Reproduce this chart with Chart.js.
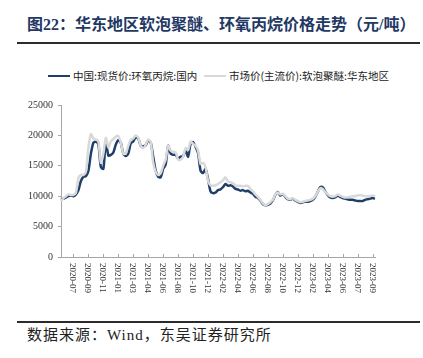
<!DOCTYPE html>
<html>
<head>
<meta charset="utf-8">
<script src="https://cdn.jsdelivr.net/npm/chart.js"></script>
<style>
  body { margin: 0; width: 423px; height: 358px; background: #fff; position: relative; overflow: hidden; }
  .abs { position: absolute; white-space: nowrap; }
  #title { left: 27px; top: 15px; font: bold 16px "Liberation Serif", "Noto Sans CJK SC"; color: #1f3864; line-height: 20px; }
  .rule { left: 17px; width: 403px; height: 2px; background: #2b2b2b; }
  .legText { font: 10.5px "Noto Sans CJK SC"; color: #222; line-height: 14px; top: 69px; }
  .legLine { width: 22px; top: 75px; height: 2px; }
  #source { left: 27px; top: 326px; font: 15px "Liberation Serif", "Noto Sans CJK SC"; letter-spacing: 1px; color: #222; line-height: 18px; }
  #chart { position: absolute; left: 0; top: 94px; }
</style>
</head>
<body>
<div id="title" class="abs">图22：华东地区软泡聚醚、环氧丙烷价格走势（元/吨）</div>
<div class="abs rule" style="top:41.5px"></div>

<div class="abs legLine" style="left:48px;background:#1f3f6b"></div>
<div class="abs legText" style="left:73px">中国:现货价:环氧丙烷:国内</div>
<div class="abs legLine" style="left:204px;background:#d9d9d9"></div>
<div class="abs legText" style="left:229px">市场价(主流价):软泡聚醚:华东地区</div>

<canvas id="chart" width="423" height="210"></canvas>

<div class="abs rule" style="top:320.5px"></div>
<div id="source" class="abs">数据来源：Wind，东吴证券研究所</div>

<script>
// tick labels on the time axis, one every 6 points, first at point 5
const tickLabels = ['2020-07','2020-09','2020-11','2021-01','2021-03','2021-04','2021-06','2021-08','2021-10','2021-12',
  '2022-02','2022-04','2022-06','2022-08','2022-10','2022-12','2023-02','2023-04','2023-06','2023-07','2023-09'];

// 中国:现货价:环氧丙烷:国内
const propyleneOxide = [
  9400, 9600, 9800, 10000, 10100, 10000, 10300, 11000, 12500, 13200,
  13300, 14200, 17000, 18800, 19000, 18500, 14800, 14500, 19000, 16700,
  16800, 17200, 18500, 19200, 18800, 17000, 16600, 17000, 18700, 19000,
  19700, 19500, 18300, 18200, 18400, 19200, 18800, 16500, 14200, 13200,
  13100, 14500, 15200, 18300, 17000, 16800, 16800, 16200, 16500, 16600,
  17500, 16500, 18600, 18900, 18100, 17100, 14200, 13800, 14500, 12800,
  10800, 10500, 10600, 11000, 11100, 11500, 12000, 11700, 11800, 11600,
  11200, 11100, 10900, 11000, 10800, 10900, 10600, 10400, 9900, 9700,
  9300, 8700, 8500, 8600, 8800, 9300, 10200, 10700, 10100, 10300,
  9900, 9500, 9400, 9600, 9300, 9100, 8900, 9000, 9100, 9100,
  9200, 9400, 9900, 10700, 11500, 11500, 10800, 10200, 9800, 9700,
  9800, 10100, 9900, 9700, 9600, 9500, 9400, 9400, 9300, 9200,
  9200, 9200, 9400, 9500, 9600, 9700, 9600
];

// 市场价(主流价):软泡聚醚:华东地区
const polyether = [
  9200, 9700, 10000, 10300, 10200, 10200, 10600, 13000, 13500, 13500,
  14000, 18000, 20200, 19500, 19300, 19000, 15500, 17000, 19600, 18000,
  19000, 19400, 19800, 19900, 18800, 17000, 17000, 18300, 19300, 19500,
  20000, 19600, 18300, 17900, 18500, 19300, 18900, 15500, 14000, 13500,
  13800, 15000, 16000, 18300, 17500, 17300, 17200, 16000, 16000, 16500,
  17900, 17600, 19000, 18600, 18300, 17500, 15300, 15500, 14800, 12500,
  11800, 11700, 11800, 12000, 12300, 12600, 13100, 12400, 12300, 12100,
  11800, 11700, 11700, 11600, 11700, 11700, 11200, 10800, 10300, 9900,
  9400, 8800, 8500, 8700, 9000, 9400, 10300, 10600, 10300, 10400,
  10000, 9600, 9500, 9700, 9400, 9200, 9000, 9100, 9200, 9300,
  9400, 9600, 10000, 10700, 11300, 11200, 10700, 10300, 10000, 9900,
  10000, 10300, 10100, 9900, 9800, 9800, 9900, 10000, 10000, 10100,
  10200, 10100, 10000, 10000, 10000, 10100, 10000
];

const yTicks = [0, 5000, 10000, 15000, 20000, 25000];

const categories = propyleneOxide.map((_, i) => (i >= 5 && (i - 5) % 6 === 0) ? tickLabels[(i - 5) / 6] : '');

const xLabelPlugin = {
  id: 'xLabels',
  afterDraw(chart) {
    const { ctx } = chart;
    const x = chart.scales.x;
    ctx.save();
    ctx.font = '9px "Liberation Serif"';
    ctx.fillStyle = '#333';
    ctx.strokeStyle = '#a6a6a6';
    ctx.lineWidth = 1;
    categories.forEach((lab, i) => {
      if (!lab) return;
      const px = Math.round(x.getPixelForValue(i)) + 0.5;
      ctx.beginPath();
      ctx.moveTo(px, x.top);
      ctx.lineTo(px, x.top - 3);
      ctx.stroke();
      ctx.save();
      ctx.translate(px - 1, x.top + 6);
      ctx.rotate(Math.PI / 2);
      ctx.textAlign = 'left';
      ctx.textBaseline = 'middle';
      ctx.fillText(lab, 0, 0);
      ctx.restore();
    });
    ctx.restore();
  }
};

new Chart(document.getElementById('chart'), {
  type: 'line',
  data: {
    labels: categories,
    datasets: [
      { label: '中国:现货价:环氧丙烷:国内', data: propyleneOxide, borderColor: '#1f3f6b', borderWidth: 2.5, order: 2 },
      { label: '市场价(主流价):软泡聚醚:华东地区', data: polyether, borderColor: '#d9d9d9', borderWidth: 2.5, order: 1 }
    ]
  },
  options: {
    responsive: false,
    animation: false,
    layout: { padding: { top: 10, left: 15, right: 48, bottom: 7 } },
    elements: { point: { radius: 0 }, line: { tension: 0.25 } },
    plugins: { legend: { display: false }, tooltip: { enabled: false } },
    scales: {
      x: {
        type: 'category',
        grid: { display: false },
        border: { display: true, color: '#a6a6a6', width: 1 },
        ticks: { display: false },
        afterFit(scale) { scale.height = 40; }
      },
      y: {
        min: 0,
        max: 25000,
        afterBuildTicks(scale) { scale.ticks = yTicks.map(v => ({ value: v })); },
        grid: { display: true, drawOnChartArea: false, drawTicks: true, tickLength: 3, color: '#a6a6a6' },
        border: { display: true, color: '#a6a6a6', width: 1 },
        ticks: { padding: 5, color: '#333', font: { family: 'Liberation Serif', size: 10 }, callback: v => String(v) },
        afterFit(scale) { scale.width = 46; }
      }
    }
  },
  plugins: [xLabelPlugin]
});
</script>
</body>
</html>
